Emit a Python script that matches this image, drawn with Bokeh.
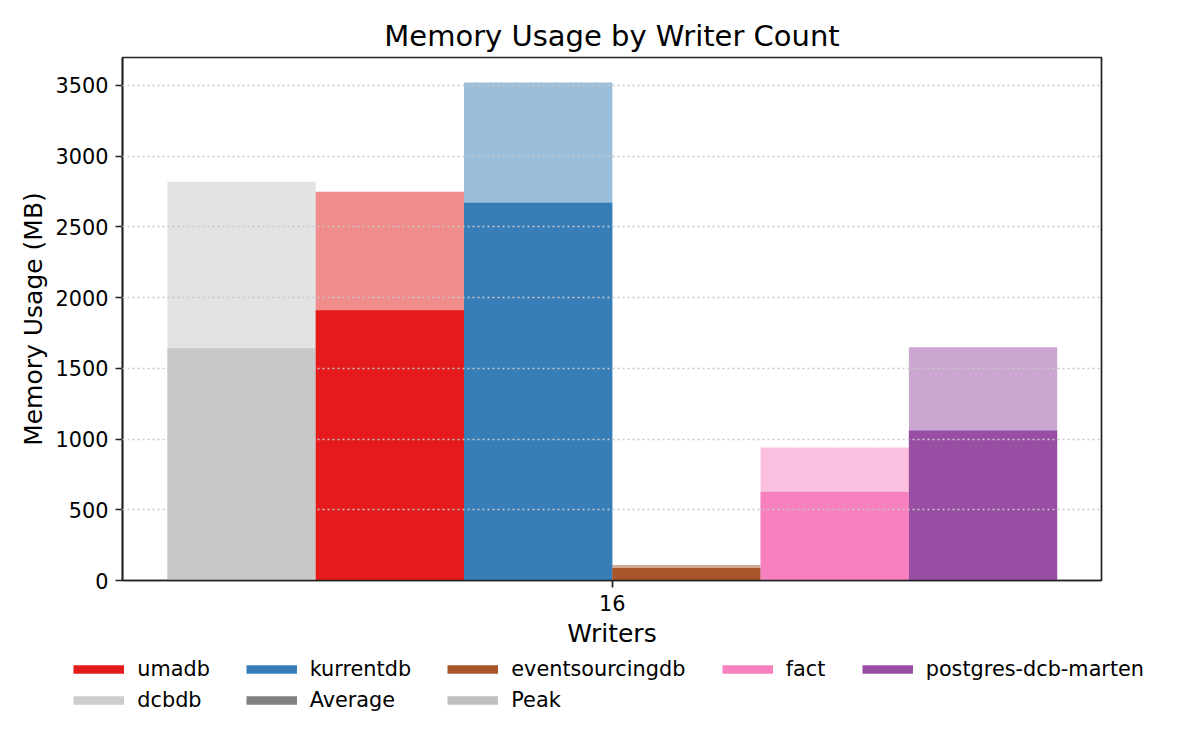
from bokeh.plotting import figure
from bokeh.layouts import column
from bokeh.models import (ColumnDataSource, FixedTicker, Range1d, Legend, LegendItem)
from bokeh.embed import file_html
from bokeh.resources import INLINE

# ---- data ----
writers = ["16"]
systems = ["dcbdb", "umadb", "kurrentdb", "eventsourcingdb", "fact", "postgres-dcb-marten"]
avg_mb = [1642, 1911, 2670, 89, 628, 1060]
peak_mb = [2819, 2748, 3521, 110, 940, 1649]
colors = ["#c8c8c8", "#e41a1c", "#377eb8", "#a65628", "#f781bf", "#984ea3"]
# legend entries, grouped by legend column (reading order is row-major, 5 per row)
legend_columns = [["umadb", "dcbdb"], ["kurrentdb", "Average"], ["eventsourcingdb", "Peak"],
                  ["fact"], ["postgres-dcb-marten"]]
legend_colors = {"umadb": "#e41a1c", "kurrentdb": "#377eb8", "eventsourcingdb": "#a65628",
                 "fact": "#f781bf", "postgres-dcb-marten": "#984ea3",
                 "dcbdb": "#cccccc", "Average": "#808080", "Peak": "#bfbfbf"}
y_ticks = [0, 500, 1000, 1500, 2000, 2500, 3000, 3500]

FONT = "DejaVu Sans"
n = len(systems)
bar_w = 1.0
xs = [(i - (n - 1) / 2) * bar_w for i in range(n)]

src = ColumnDataSource(dict(x=xs, avg=avg_mb, peak=peak_mb, color=colors, name=systems))

p = figure(frame_width=979, frame_height=523, output_backend="svg", toolbar_location=None,
           x_range=Range1d(-3.303, 3.299), y_range=Range1d(0, max(peak_mb) * 1.05),
           min_border_left=122, min_border_right=91, min_border_top=57, min_border_bottom=72,
           title="Memory Usage by Writer Count")

p.vbar(x="x", top="peak", bottom=0, width=bar_w, fill_color="color", fill_alpha=0.5,
       line_color=None, source=src)
p.vbar(x="x", top="avg", bottom=0, width=bar_w, fill_color="color", fill_alpha=1.0,
       line_color=None, source=src)

# title
p.title.text_font = FONT
p.title.text_font_size = "29px"
p.title.text_font_style = "normal"
p.title.align = "center"
p.title.text_color = "#000000"

# axes
p.xaxis.ticker = FixedTicker(ticks=[0])
p.xaxis.major_label_overrides = {0: writers[0]}
p.yaxis.ticker = FixedTicker(ticks=y_ticks)
p.xaxis.axis_label = "Writers"
p.yaxis.axis_label = "Memory Usage (MB)"
for ax in (p.xaxis, p.yaxis):
    ax.axis_label_text_font = FONT
    ax.axis_label_text_font_size = "25px"
    ax.axis_label_text_font_style = "normal"
    ax.axis_label_text_color = "#000000"
    ax.major_label_text_font = FONT
    ax.major_label_text_font_size = "20.8px"
    ax.major_label_text_color = "#000000"
    ax.minor_tick_line_color = None
    ax.major_tick_out = 7
    ax.major_tick_in = 0
    ax.major_tick_line_width = 1.7
    ax.major_tick_line_color = "#222222"
    ax.axis_line_width = 1.7
    ax.axis_line_color = "#222222"
    ax.major_label_standoff = 7
p.yaxis.axis_label_standoff = 5
p.xaxis.axis_label_standoff = 5

p.outline_line_color = "#222222"
p.outline_line_width = 1.7

p.xgrid.grid_line_color = None
p.ygrid.grid_line_color = "#c8c8c8"
p.ygrid.grid_line_dash = "2 3"
p.ygrid.grid_line_width = 1.5
p.ygrid.level = "guide"
p.background_fill_color = "white"
p.border_fill_color = "white"

# ---- legend strip below (separate figure holding only the legend) ----
p2 = figure(width=1192, height=80, output_backend="svg", toolbar_location=None,
            x_range=Range1d(0, 1), y_range=Range1d(0, 1),
            min_border=0, min_border_left=0, min_border_right=0,
            min_border_top=0, min_border_bottom=0)
p2.axis.visible = False
p2.grid.visible = False
p2.outline_line_color = None

unaligned = True
try:
    p.frame_align = False
    p2.frame_align = False
except Exception:
    unaligned = False

x_shift = 0 if unaligned else -122
col_x = [73.3, 245.7, 447.3, 721.7, 861.7]
SP = 7
for cx, labels in zip(col_x, legend_columns):
    items = []
    for lab in labels:
        # legend-only handle: lies outside the strip's range, only its legend swatch shows
        r = p2.line(x=[-2, -1], y=[-2, -2], line_color=legend_colors[lab], line_width=8.5,
                    line_cap="butt")
        items.append(LegendItem(label=lab, renderers=[r]))
    h = len(labels) * 24 + (len(labels) - 1) * SP
    leg = Legend(items=items, location=(cx + x_shift, 75 - h),
                 glyph_width=51, glyph_height=24, label_standoff=13, spacing=SP,
                 label_text_font=FONT, label_text_font_size="20.8px",
                 label_text_color="#000000", label_height=24,
                 border_line_color=None, background_fill_alpha=0,
                 padding=0, margin=0)
    p2.add_layout(leg, "center")

layout = column(p, p2, spacing=0)
open("out.html", "w").write(file_html(layout, INLINE))
